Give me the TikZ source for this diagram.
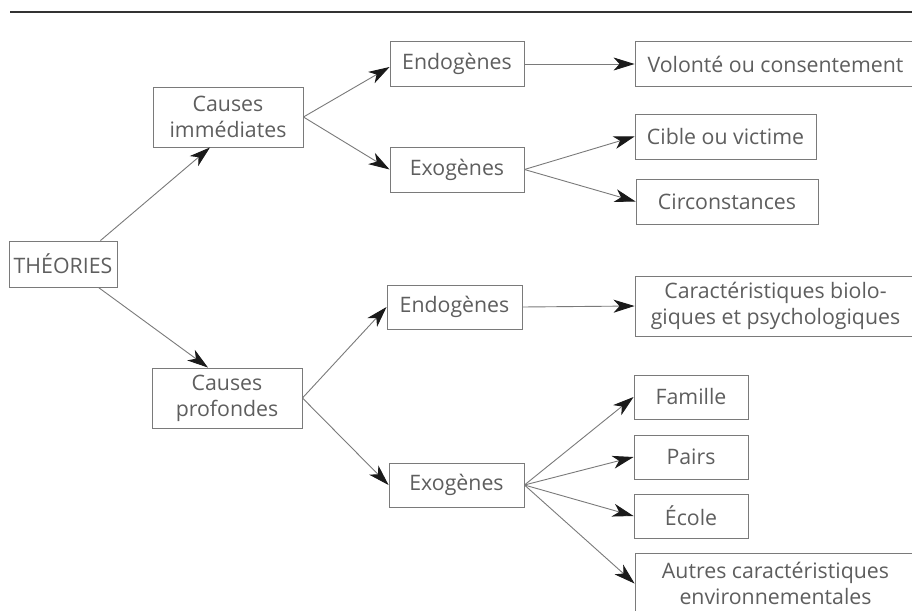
\documentclass[tikz,border=0pt]{standalone}
\usepackage{fontspec}
\setmainfont{Open Sans}
\usetikzlibrary{arrows.meta}
\definecolor{txt}{HTML}{5E5E5E}
\definecolor{edge}{HTML}{7A7A7A}
\definecolor{tip}{HTML}{1A1A1A}
\begin{document}
\begin{tikzpicture}[x=1pt,y=-1pt,
  box/.style={draw=edge,line width=0.9pt,inner sep=0pt,text=txt,align=center,
    font=\fontsize{21.3}{26}\selectfont,minimum height=45pt},
  tall/.style={minimum height=60pt},
  conn/.style={draw=edge,line width=0.9pt,
    -{Stealth[length=21pt,width=13pt,inset=6pt,color=tip]}}]
\clip (0,0) rectangle (912,610);
\fill[white] (0,0) rectangle (912,610);
\coordinate (rl) at (10,12);
\coordinate (rr) at (912,12);
\draw[line width=2pt,draw=black!80] (rl) -- (rr);

\node[box,minimum width=108pt,minimum height=46pt] (theo) at (63,264) {THÉORIES};
\node[box,tall,minimum width=150pt] (cimm) at (228,117) {Causes\\immédiates};
\node[box,minimum width=134pt] (endo1) at (457,64) {Endogènes};
\node[box,minimum width=281pt] (vol) at (775.5,64) {Volonté ou consentement};
\node[box,minimum width=134pt] (exo1) at (457,169.5) {Exogènes};
\node[box,minimum width=181pt] (cible) at (725.5,136.5) {Cible ou victime};
\node[box,minimum width=182pt] (circ) at (727,201.5) {Circonstances};
\node[box,tall,minimum width=150pt] (cprof) at (227,398) {Causes\\profondes};
\node[box,minimum width=135pt,minimum height=44pt] (endo2) at (454.5,307) {Endogènes};
\node[box,tall,minimum width=281pt] (carac) at (775.5,306) {Caractéristiques biolo-\\giques et psychologiques};
\node[box,minimum width=135pt,minimum height=44pt] (exo2) at (456.5,485) {Exogènes};
\node[box,minimum width=114pt,minimum height=44pt] (fam) at (691,397) {Famille};
\node[box,minimum width=114pt,minimum height=44pt] (pairs) at (691,457) {Pairs};
\node[box,minimum width=114pt,minimum height=44pt] (ecole) at (691,516) {École};
\node[box,tall,minimum width=281pt] (autres) at (775.5,583.5) {Autres caractéristiques\\environnementales};

\draw[conn] ([xshift=-17pt]theo.north east) -- ([xshift=-18pt]cimm.south);
\draw[conn] ([xshift=-19pt]theo.south east) -- ([xshift=-19pt]cprof.north);
\draw[conn] (cimm.east) -- ([yshift=-3pt]endo1.west);
\draw[conn] (cimm.east) -- (exo1.west);
\draw[conn] (endo1.east) -- (vol.west);
\draw[conn] (exo1.east) -- (cible.west);
\draw[conn] (exo1.east) -- (circ.west);
\draw[conn] (cprof.east) -- (endo2.west);
\draw[conn] (cprof.east) -- (exo2.west);
\draw[conn] (endo2.east) -- (carac.west);
\draw[conn] (exo2.east) -- (fam.west);
\draw[conn] (exo2.east) -- (pairs.west);
\draw[conn] (exo2.east) -- (ecole.west);
\draw[conn] (exo2.east) -- (autres.west);
\end{tikzpicture}
\end{document}
